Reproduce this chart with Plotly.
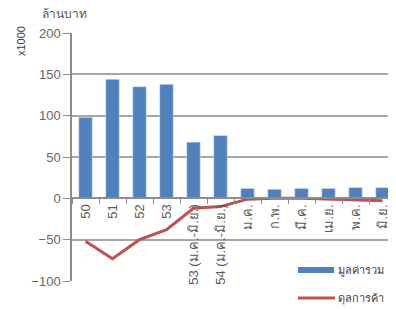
import plotly.graph_objects as go

categories = ["50", "51", "52", "53", "53 (ม.ค.-มิ.ย.)", "54 (ม.ค.-มิ.ย.)",
              "ม.ค.", "ก.พ.", "มี.ค.", "เม.ย.", "พ.ค.", "มิ.ย."]
total_value = [98, 144, 135, 138, 68, 76, 12, 11, 12, 12, 13, 13]
trade_balance = [-52, -73, -50, -38, -12, -10, -1, 0, 0, -1, -2, -3]
y_ticks = [-100, -50, 0, 50, 100, 150, 200]
bar_name = "มูลค่ารวม"
line_name = "ดุลการค้า"

BLUE = "#4F81BD"
RED = "#C0504D"
GRID = "#a6a6a6"
FONT = "Liberation Sans, Noto Sans, sans-serif"

# the page body has an 8px margin, so the figure is laid out 8px up/left
OFF = 8
L, T = 72 - OFF, 33 - OFF
PW, PH = 324, 248
W, H = 396, 309

fig = go.Figure()
fig.add_trace(go.Bar(x=categories, y=total_value, marker_color=BLUE,
                     width=0.5, name=bar_name, showlegend=False))
fig.add_trace(go.Scatter(x=categories, y=trade_balance, mode="lines",
                         line=dict(color=RED, width=3), name=line_name,
                         showlegend=False))

fig.update_layout(
    width=W, height=H,
    margin=dict(l=L, r=W - L - PW, t=T, b=H - T - PH, autoexpand=False),
    paper_bgcolor="white", plot_bgcolor="white",
    font=dict(family=FONT, size=13, color="#595959"),
    showlegend=False,
    xaxis=dict(
        type="category", anchor="free", position=1/3, automargin=False,
        showgrid=False, showline=True, linecolor="#8c8c8c", linewidth=1.5,
        ticks="outside", tickson="boundaries", ticklen=5, tickcolor="#8c8c8c",
        tickangle=-90, tickfont=dict(size=13, color="#595959"),
        range=[-0.5, 11.5],
    ),
    yaxis=dict(
        range=[-100, 200], tickvals=y_ticks, automargin=False,
        showgrid=True, gridcolor=GRID, gridwidth=1.5,
        zeroline=False,
        showline=True, linecolor="#8c8c8c", linewidth=1.5,
        ticks="outside", ticklen=7, tickcolor="#8c8c8c",
        tickfont=dict(size=13, color="#666666"),
    ),
)

def px_x(px):
    return (px - 72) / PW

def px_y(py):
    return (281 - py) / PH

# y-axis unit labels
fig.add_annotation(text="x1000", xref="paper", yref="paper", x=px_x(21), y=px_y(41),
                   xanchor="center", yanchor="middle", textangle=-90,
                   showarrow=False, font=dict(size=11, color="#404040"))
fig.add_annotation(text="ล้านบาท", xref="paper", yref="paper", x=px_x(64), y=px_y(14),
                   xanchor="center", yanchor="middle",
                   showarrow=False, font=dict(size=12, color="#595959"))

# custom legend (paper coordinates)
fig.add_shape(type="rect", xref="paper", yref="paper",
              x0=px_x(298), x1=px_x(334), y0=px_y(273), y1=px_y(267),
              fillcolor=BLUE, line=dict(width=0))
fig.add_annotation(text=bar_name, xref="paper", yref="paper",
                   x=px_x(336), y=px_y(270), xanchor="left", yanchor="middle",
                   showarrow=False, font=dict(size=11, color="#404040"))
fig.add_shape(type="line", xref="paper", yref="paper",
              x0=px_x(298), x1=px_x(335), y0=px_y(298), y1=px_y(298),
              line=dict(color=RED, width=3))
fig.add_annotation(text=line_name, xref="paper", yref="paper",
                   x=px_x(336), y=px_y(298), xanchor="left", yanchor="middle",
                   showarrow=False, font=dict(size=11, color="#404040"))

fig.write_html("out.html")
